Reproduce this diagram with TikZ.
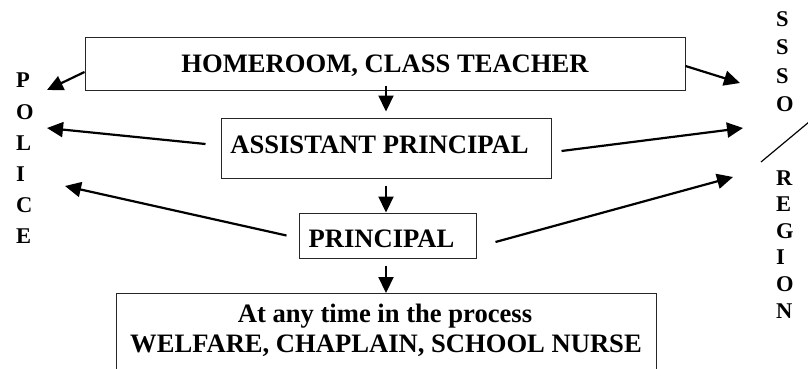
\documentclass[tikz,border=0pt]{standalone}
\usepackage{fontspec}
\setmainfont{Liberation Serif}
\usetikzlibrary{arrows.meta}
\tikzset{
  box/.style={draw=black!85, line width=1pt, inner sep=0pt},
  boxtext/.style={font=\fontsize{26.6}{31}\selectfont\bfseries, inner sep=0pt, anchor=base},
  sideletter/.style={font=\fontsize{22.5}{26}\selectfont\bfseries, inner sep=0pt, anchor=base west},
  flow/.style={line width=2.2pt, -{Triangle[length=16pt,width=15pt]}},
  slash/.style={line width=1.2pt},
}
\begin{document}
\begin{tikzpicture}[x=1pt,y=-1pt]
\useasboundingbox (0,0) rectangle (808,369);
\clip (0,0) rectangle (808,369);
% boxes
\node[box, minimum width=600pt, minimum height=52pt] (home) at (385,64) {};
\node[boxtext] (hometext) at (385,73) {HOMEROOM, CLASS TEACHER};
\node[box, minimum width=330pt, minimum height=60pt] (asst) at (386,148) {};
\node[boxtext] (assttext) at (379.5,153) {ASSISTANT PRINCIPAL};
\node[box, minimum width=177pt, minimum height=45pt] (princ) at (387.5,235.5) {};
\node[boxtext] (princtext) at (381.5,247) {PRINCIPAL};
\node[box, minimum width=540pt, minimum height=92pt, anchor=north] (care) at (386,293) {};
\node[boxtext] (care1) at (385,322) {At any time in the process};
\node[boxtext] (care2) at (386,352) {WELFARE, CHAPLAIN, SCHOOL NURSE};
% side letters
\foreach \l [count=\i from 0] in {P,O,L,I,C,E}
  \node[sideletter] (police\i) at (16,{88+31*\i}) {\l};
\foreach \l [count=\i from 0] in {S,S,S,O}
  \node[sideletter] (ssso\i) at (776,{27+28*\i}) {\l};
\foreach \l [count=\i from 0] in {R,E,G,I,O,N}
  \node[sideletter] (region\i) at (776,{185+26.6*\i}) {\l};
% arrow tips near the side labels
\coordinate (pol1) at (47,90);
\coordinate (pol2) at (47,128);
\coordinate (pol3) at (65,186);
\coordinate (ss1) at (740,83);
\coordinate (ss2) at (743,128);
\coordinate (ss3) at (733,177);
% arrows to POLICE
\draw[flow] ([yshift=-8pt]home.west) -- (pol1);
\draw[flow] ([shift={(-15,-4)}]asst.west) -- (pol2);
\draw[flow] ([shift={(-12,0)}]princ.west) -- (pol3);
% arrows to SSSO / REGION
\draw[flow] ([shift={(0,2)}]home.east) -- (ss1);
\draw[flow] ([shift={(10,3)}]asst.east) -- (ss2);
\draw[flow] ([shift={(19,6.5)}]princ.east) -- (ss3);
% downward arrows
\draw[flow] ([shift={(1,-5)}]home.south) -- ([shift={(0,-6)}]asst.north);
\draw[flow] ([shift={(0,7)}]asst.south) -- (princ.north -| asst.south);
\draw[flow] ([shift={(-1.5,7)}]princ.south) -- (care.north);
% slash between SSSO and REGION
\coordinate (sl1) at (761,162);
\coordinate (sl2) at (815,117);
\draw[slash] (sl1) -- (sl2);
\end{tikzpicture}
\end{document}
